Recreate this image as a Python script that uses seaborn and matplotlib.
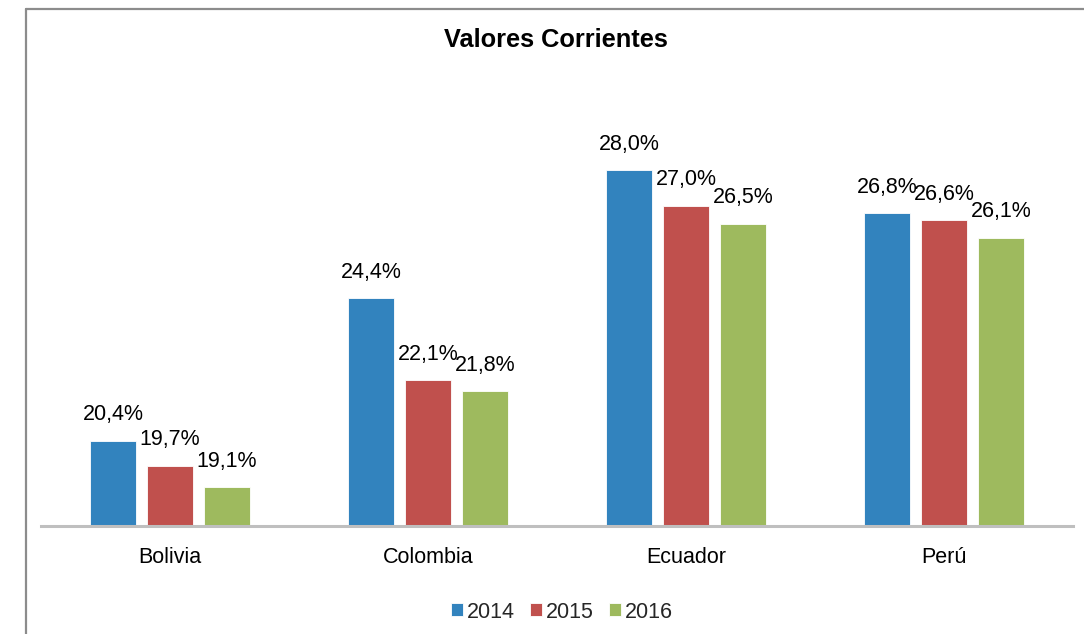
import pandas as pd
import matplotlib
matplotlib.use("Agg")
import matplotlib.pyplot as plt
import seaborn as sns
from matplotlib.lines import Line2D

# chart data
paises = ["Bolivia", "Colombia", "Ecuador", "Perú"]
anios = ["2014", "2015", "2016"]
v2014 = [20.4, 24.4, 28.0, 26.8]
v2015 = [19.7, 22.1, 27.0, 26.6]
v2016 = [19.1, 21.8, 26.5, 26.1]
colores = ["#3283BE", "#C0504D", "#9EBA5E"]

df = pd.DataFrame({
    "pais": paises * 3,
    "anio": [a for a in anios for _ in paises],
    "valor": v2014 + v2015 + v2016,
})

sns.set_theme(style="white")
plt.rcParams["font.family"] = ["Liberation Sans", "DejaVu Sans"]

fig = plt.figure(figsize=(10.84, 6.34), dpi=100)
ax = fig.add_axes([41 / 1084, 1 - 526 / 634, 1032 / 1084, 427 / 634])

sns.barplot(data=df, x="pais", y="valor", hue="anio", palette=colores,
            width=0.663, gap=0.2, saturation=1, edgecolor="white",
            linewidth=0.6, ax=ax)

for cont in ax.containers:
    ax.bar_label(cont, labels=[f"{v:.1f}%".replace(".", ",") for v in cont.datavalues],
                 padding=11, fontsize=15.5, color="black")

ax.set_ylim(18, 30)
ax.set_xlim(-0.5, 3.5)
ax.set_xlabel("")
ax.set_ylabel("")
ax.set_yticks([])
ax.tick_params(axis="x", length=0, pad=15, labelsize=15.5, colors="black")
for s in ["top", "right", "left"]:
    ax.spines[s].set_visible(False)
ax.spines["bottom"].set_color("#BFBFBF")
ax.spines["bottom"].set_linewidth(2.2)

fig.text(556 / 1084, 1 - 40 / 634, "Valores Corrientes", ha="center", va="center",
         fontsize=18.3, fontweight="bold", color="black")

ax.legend(loc="center", bbox_to_anchor=(562 / 1084, 1 - 612 / 634),
          bbox_transform=fig.transFigure, ncol=3, frameon=False,
          fontsize=15.5, handlelength=0.55, handleheight=0.55,
          handletextpad=0.2, columnspacing=0.7)

# outer chart frame (left and top edges visible)
fig.add_artist(Line2D([26 / 1084, 26 / 1084], [0, 1 - 9 / 634], transform=fig.transFigure,
                      color="#8C8C8C", linewidth=1.6))
fig.add_artist(Line2D([26 / 1084, 1], [1 - 9 / 634, 1 - 9 / 634], transform=fig.transFigure,
                      color="#8C8C8C", linewidth=1.6))

fig.savefig("out.png", dpi=100)
